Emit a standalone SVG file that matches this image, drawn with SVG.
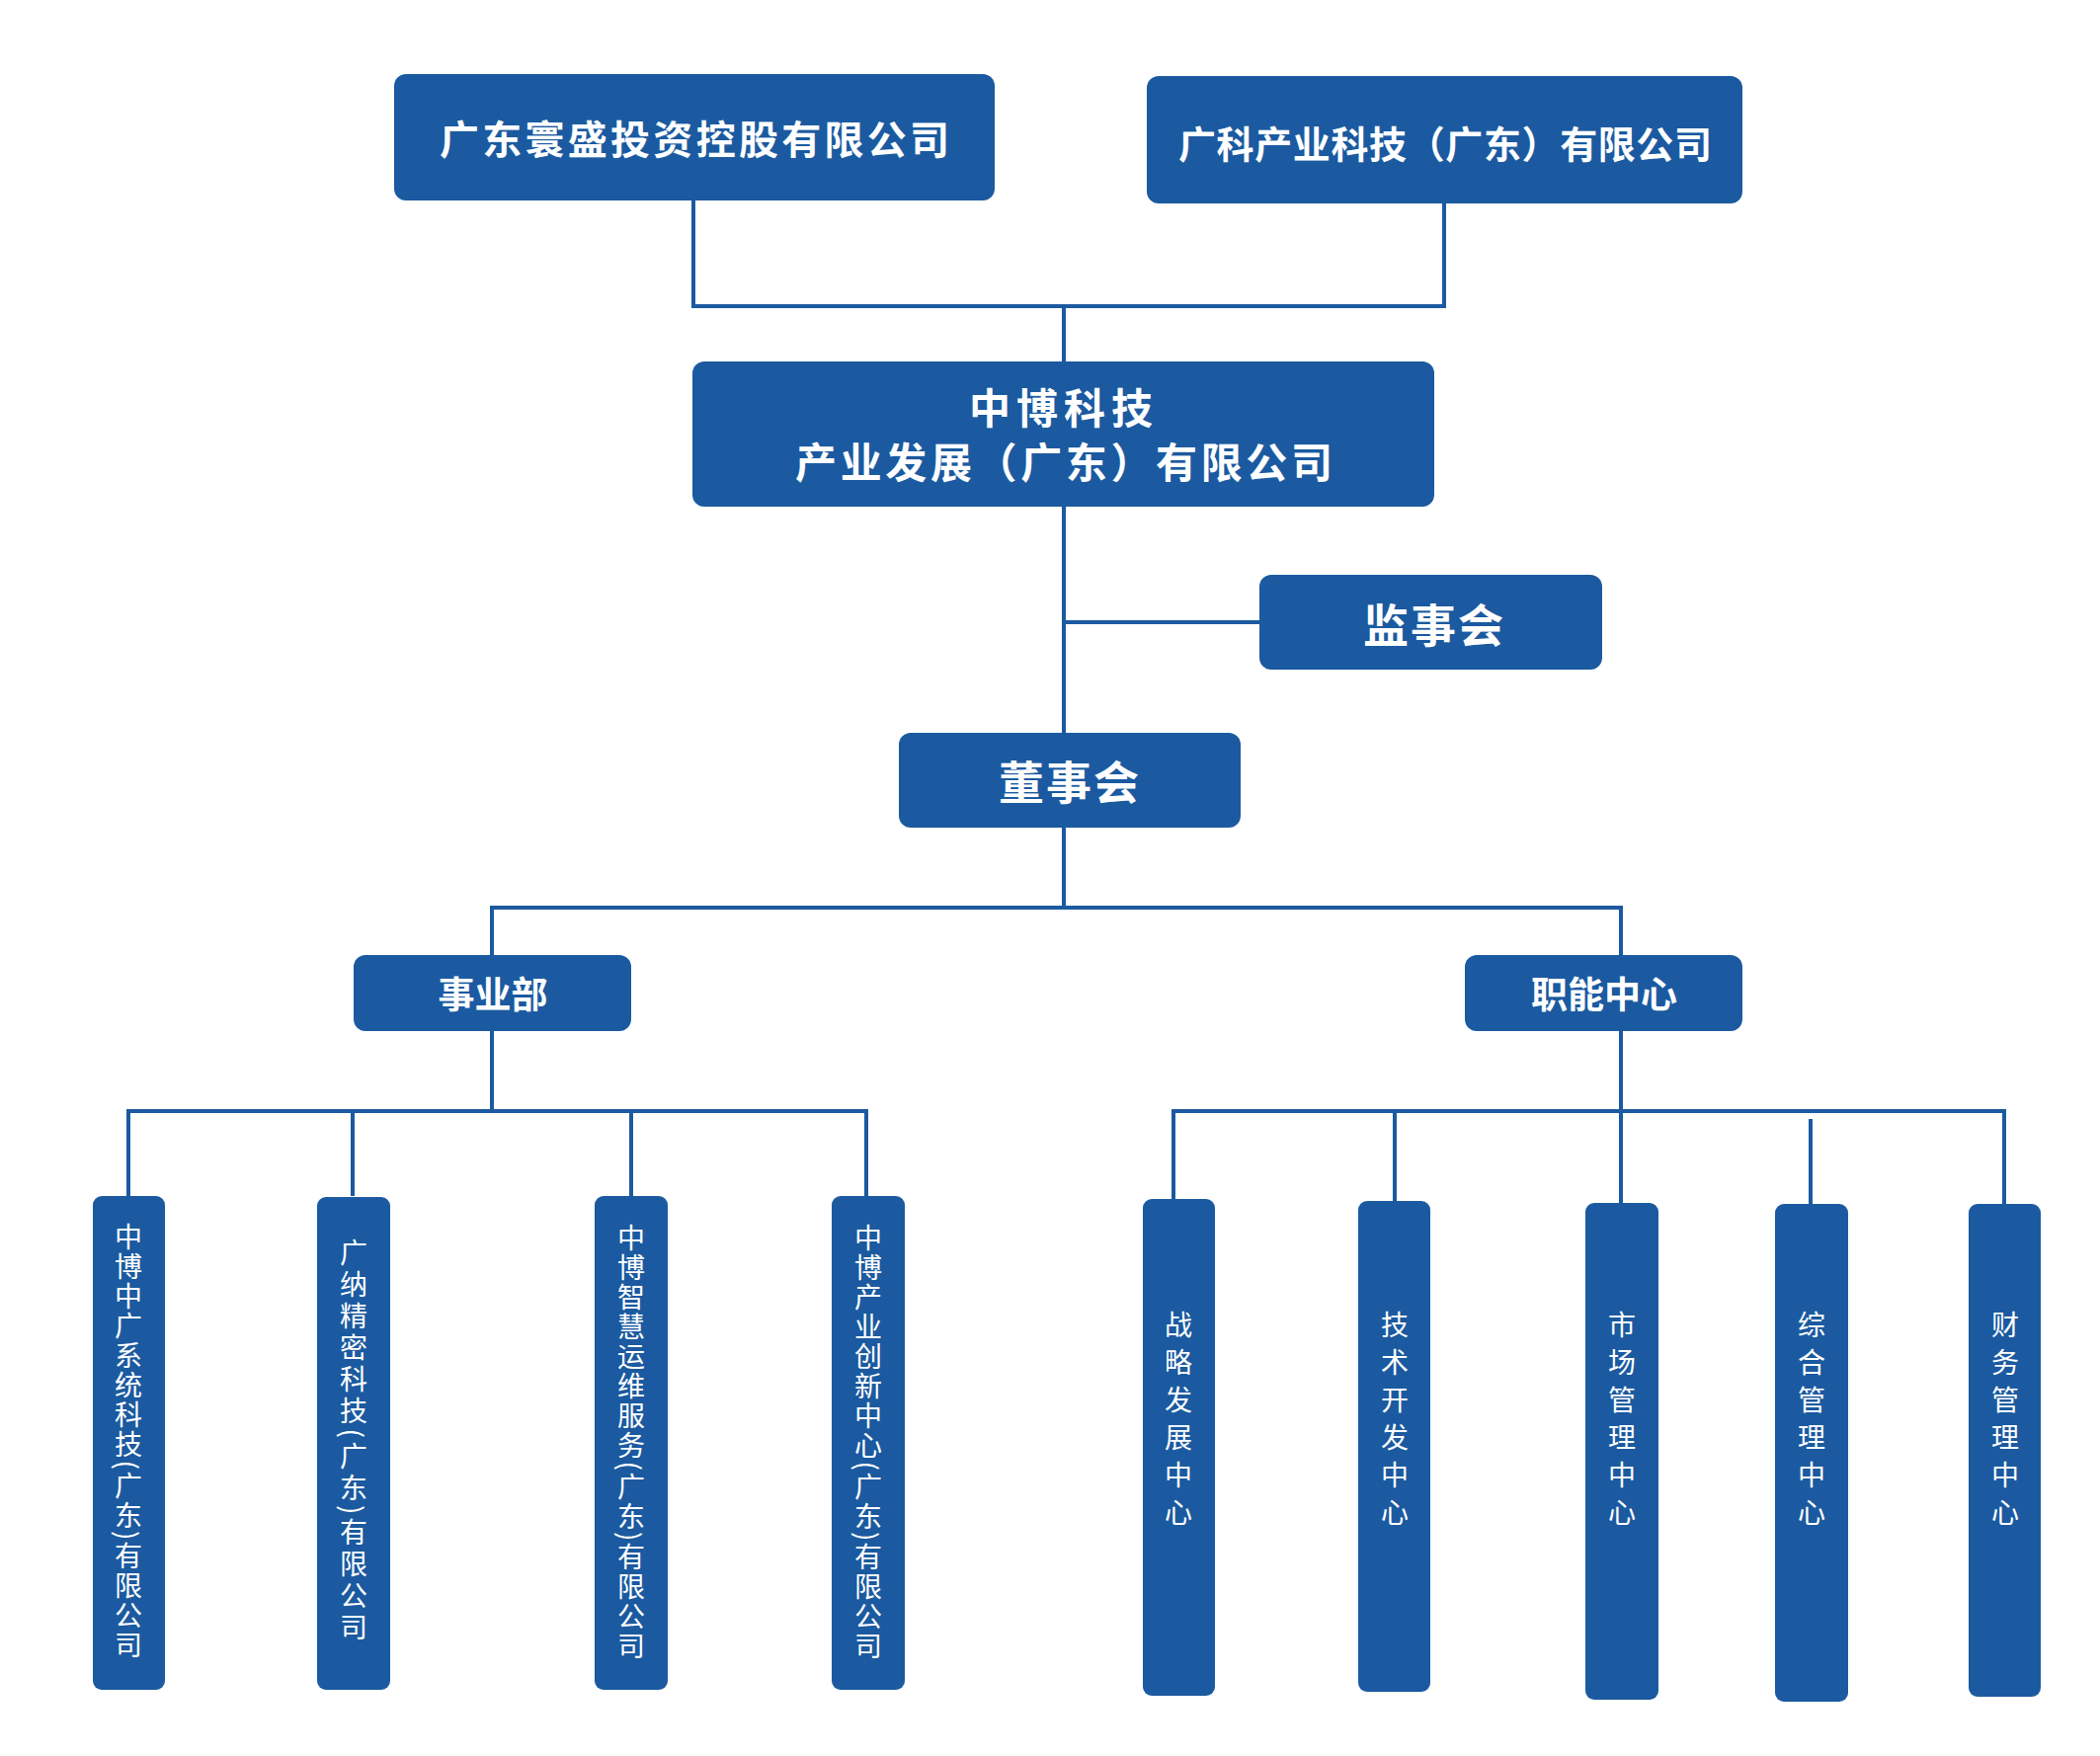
<svg xmlns="http://www.w3.org/2000/svg" width="2126" height="1778" viewBox="0 0 2126 1778">
<style>
.box{fill:#1b5aa0}
.ln{stroke:#1b5aa0;stroke-width:4;fill:none}
.hd{fill:#fff;font-family:"Noto Sans CJK SC","Noto Sans",sans-serif;font-weight:700;text-anchor:middle;dominant-baseline:central}
.vt{fill:#fff;font-family:"Noto Sans CJK SC","Noto Sans",sans-serif;font-size:28px;writing-mode:vertical-rl;text-anchor:middle}
</style>
<rect width="2126" height="1778" fill="#fff"/>
<g id="connectors">
<polyline class="ln" points="702,203 702,310 1462,310 1462,206"/>
<line class="ln" x1="1077" y1="310" x2="1077" y2="366"/>
<line class="ln" x1="1077" y1="513" x2="1077" y2="742"/>
<line class="ln" x1="1077" y1="630" x2="1275" y2="630"/>
<line class="ln" x1="1077" y1="838" x2="1077" y2="919"/>
<polyline class="ln" points="498,967 498,919 1641,919 1641,967"/>
<line class="ln" x1="498" y1="1044" x2="498" y2="1125"/>
<polyline class="ln" points="130,1211 130,1125 877,1125 877,1211"/>
<line class="ln" x1="357" y1="1125" x2="357" y2="1211"/>
<line class="ln" x1="639" y1="1125" x2="639" y2="1211"/>
<line class="ln" x1="1641" y1="1044" x2="1641" y2="1218"/>
<polyline class="ln" points="1188,1214 1188,1125 2029,1125 2029,1219"/>
<line class="ln" x1="1412" y1="1125" x2="1412" y2="1216"/>
<line class="ln" x1="1833" y1="1133" x2="1833" y2="1219"/>
</g>
<g id="n1"><rect class="box" x="399" y="75" width="608" height="128" rx="12"/><text class="hd" x="703" y="139" font-size="40" textLength="516" lengthAdjust="spacing">广东寰盛投资控股有限公司</text></g>
<g id="n2"><rect class="box" x="1161" y="77" width="603" height="129" rx="12"/><text class="hd" x="1463" y="143" font-size="38" textLength="540" lengthAdjust="spacing">广科产业科技（广东）有限公司</text></g>
<g id="n3"><rect class="box" x="701" y="366" width="751" height="147" rx="12"/><text class="hd" x="1077" y="410" font-size="42" letter-spacing="6">中博科技</text><text class="hd" x="1077" y="465" font-size="42" textLength="544" lengthAdjust="spacing">产业发展（广东）有限公司</text></g>
<g id="n4"><rect class="box" x="1275" y="582" width="347" height="96" rx="12"/><text class="hd" x="1452" y="630" font-size="46" letter-spacing="2">监事会</text></g>
<g id="n5"><rect class="box" x="910" y="742" width="346" height="96" rx="12"/><text class="hd" x="1083" y="789" font-size="46" letter-spacing="2">董事会</text></g>
<g id="n6"><rect class="box" x="358" y="967" width="281" height="77" rx="12"/><text class="hd" x="499" y="1005" font-size="37">事业部</text></g>
<g id="n7"><rect class="box" x="1483" y="967" width="281" height="77" rx="12"/><text class="hd" x="1624" y="1005" font-size="37">职能中心</text></g>
<g id="c1"><rect class="box" x="94" y="1211" width="73" height="500" rx="9"/><text class="vt" x="130" y="1460" letter-spacing="2">中博中广系统科技(广东)有限公司</text></g>
<g id="c2"><rect class="box" x="321" y="1212" width="74" height="499" rx="9"/><text class="vt" x="358" y="1460" letter-spacing="4">广纳精密科技(广东)有限公司</text></g>
<g id="c3"><rect class="box" x="602" y="1211" width="74" height="500" rx="9"/><text class="vt" x="639" y="1461" letter-spacing="2">中博智慧运维服务(广东)有限公司</text></g>
<g id="c4"><rect class="box" x="842" y="1211" width="74" height="500" rx="9"/><text class="vt" x="879" y="1461" letter-spacing="2">中博产业创新中心(广东)有限公司</text></g>
<g id="d1"><rect class="box" x="1157" y="1214" width="73" height="503" rx="9"/><text class="vt" x="1193" y="1441" letter-spacing="10">战略发展中心</text></g>
<g id="d2"><rect class="box" x="1375" y="1216" width="73" height="497" rx="9"/><text class="vt" x="1412" y="1441" letter-spacing="10">技术开发中心</text></g>
<g id="d3"><rect class="box" x="1605" y="1218" width="74" height="503" rx="9"/><text class="vt" x="1642" y="1441" letter-spacing="10">市场管理中心</text></g>
<g id="d4"><rect class="box" x="1797" y="1219" width="74" height="504" rx="9"/><text class="vt" x="1834" y="1441" letter-spacing="10">综合管理中心</text></g>
<g id="d5"><rect class="box" x="1993" y="1219" width="73" height="499" rx="9"/><text class="vt" x="2030" y="1441" letter-spacing="10">财务管理中心</text></g>
</svg>
